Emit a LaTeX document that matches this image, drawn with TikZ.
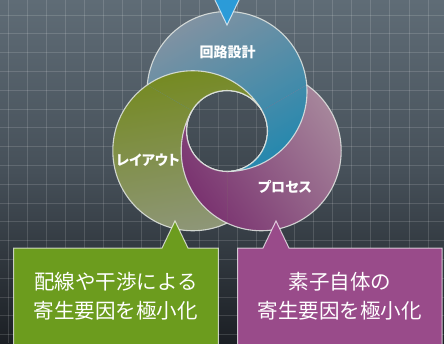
\documentclass[tikz,border=0pt]{standalone}
\usepackage{fontspec}
\newfontfamily\jp{Noto Sans CJK JP}
\newfontfamily\jpp[RawFeature=+palt]{Noto Sans CJK JP}
\definecolor{bgtop}{HTML}{5F6C76}
\definecolor{bgmid}{HTML}{465059}
\definecolor{bgbot}{HTML}{1B1F24}
\definecolor{bluetop}{HTML}{8092A2}
\definecolor{bluebot}{HTML}{2688AE}
\definecolor{greentop}{HTML}{758A22}
\definecolor{greenbot}{HTML}{8E9678}
\definecolor{purplelight}{HTML}{A6869B}
\definecolor{purpledark}{HTML}{7A3370}
\definecolor{ringline}{HTML}{E4E8E4}
\definecolor{tri}{HTML}{2B9BD8}
\definecolor{calgreen}{HTML}{6C9C1E}
\definecolor{calpurple}{HTML}{994B8A}
\tikzset{
  ring/.style={even odd rule, draw=ringline, draw opacity=0.85, line width=1.1pt},
  gridline/.style={draw=white, draw opacity=0.14, line width=0.9pt},
  callout/.style={draw=white, draw opacity=0.7, line width=1pt},
  ringlabel/.style={text=white, inner sep=0pt},
  boxlabel/.style={text=white, font=\jp\fontsize{20.5}{28.5}\selectfont, align=center, inner sep=0pt},
}
\newcommand\ringblue{\shade[ring, top color=bluetop, bottom color=bluebot, shading angle=30]
  (227,91.5) circle[radius=80] (227,131) circle[radius=40.5];}
\newcommand\ringgreen{\shade[ring, top color=greentop, bottom color=greenbot, shading angle=10]
  (192.8,150.75) circle[radius=80] (227,131) circle[radius=40.5];}
\newcommand\ringpurple{\shade[ring, top color=purplelight, bottom color=purpledark, shading angle=-55]
  (261.2,150.75) circle[radius=80] (227,131) circle[radius=40.5];}
\begin{document}
\begin{tikzpicture}[x=1pt,y=-1pt]
\useasboundingbox (0,0) rectangle (444,343);
\clip (0,0) rectangle (444,343);
% background
\shade[top color=bgtop, bottom color=bgbot, middle color=bgmid] (0,0) rectangle (444,343);
\foreach \i in {0,...,23} \draw[gridline] ({8.3+19.08*\i},0) -- ({8.3+19.08*\i},343);
\foreach \i in {0,...,18} \draw[gridline] (0,{15+18.8*\i}) -- (444,{15+18.8*\i});
\fill[black, opacity=0.1] (227,131) circle[radius=40.5];
% top sector: green over blue over purple
\begin{scope}
  \clip (227,131) -- (400.2,31) -- (227,-69) -- (53.8,31) -- cycle;
  \ringpurple \ringblue \ringgreen
\end{scope}
% right sector: blue over purple over green
\begin{scope}
  \clip (227,131) -- (227,331) -- (400.2,231) -- (400.2,31) -- cycle;
  \ringgreen \ringpurple \ringblue
\end{scope}
% left sector: purple over green over blue
\begin{scope}
  \clip (227,131) -- (53.8,31) -- (53.8,231) -- (227,331) -- cycle;
  \ringblue \ringgreen \ringpurple
\end{scope}
% top pointer
\filldraw[fill=tri, draw=white, draw opacity=0.7, line width=1pt] (213.5,-3) -- (227,25) -- (240.5,-3);
% labels on rings
\node[ringlabel, font=\jp\bfseries\fontsize{14}{16}\selectfont] (design) at (227.5,52) {回路設計};
\node[ringlabel, font=\jpp\bfseries\fontsize{14}{16}\selectfont] (layout) at (148,160) {レイアウト};
\node[ringlabel, font=\jpp\bfseries\fontsize{14}{16}\selectfont] (process) at (285,187) {プロセス};
% callouts
\filldraw[callout, fill=calgreen] (13.5,350) -- (13.5,248) -- (162,248) -- (175,221) -- (188,248) -- (218.3,248) -- (218.3,350);
\filldraw[callout, fill=calpurple] (237.5,350) -- (237.5,248) -- (263,248) -- (276,221) -- (289,248) -- (442,248) -- (442,350);
\node[boxlabel] (wiring) at (115.9,296) {配線や干渉による\\寄生要因を極小化};
\node[boxlabel] (device) at (339.75,296) {素子自体の\\寄生要因を極小化};
\end{tikzpicture}
\end{document}
